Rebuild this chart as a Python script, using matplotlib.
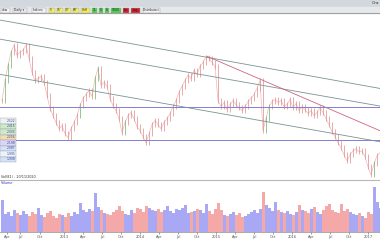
import numpy as np
import matplotlib
matplotlib.use("Agg")
import matplotlib.pyplot as plt
from matplotlib.patches import Rectangle

# closing prices (one every 3 px)
closes = [1980, 2180, 2330, 2460, 2530, 2430, 2460, 2480, 2530, 2400,
          2260, 2180, 2200, 2220, 2160, 2030, 1900, 1830, 1760, 1700,
          1730, 1650, 1610, 1700, 1760, 1830, 1930, 2000, 2040, 2080,
          2020, 2200, 2300, 2130, 2160, 2120, 2000, 1930, 1880, 1800,
          1660, 1760, 1830, 1860, 1800, 1720, 1680, 1620, 1560, 1650,
          1740, 1780, 1740, 1700, 1760, 1800, 1850, 1920, 1980, 2060,
          2120, 2180, 2230, 2200, 2280, 2240, 2320, 2360, 2410, 2400,
          2360, 2320, 1980, 1920, 1960, 1890, 1940, 1980, 1940, 1910,
          1880, 1920, 1970, 2000, 2040, 2100, 2180, 1680, 1800, 1920,
          1970, 1990, 1960, 1980, 1920, 1940, 1990, 1910, 1950, 1880,
          1920, 1890, 1850, 1880, 1830, 1860, 1910, 1860, 1800, 1740,
          1670, 1620, 1560, 1510, 1440, 1380, 1440, 1480, 1500, 1470,
          1480, 1420, 1320, 1240, 1350, 1430, 1460]

volumes = [32, 18, 20, 16, 22, 19, 17, 21, 18, 16, 20, 18, 24, 17, 15, 19,
           21, 16, 14, 18, 17, 15, 19, 16, 20, 18, 29, 22, 20, 23, 21, 39,
           25, 22, 19, 18, 17, 20, 22, 26, 21, 18, 17, 22, 19, 24, 23, 20,
           26, 24, 22, 21, 23, 20, 22, 26, 21, 19, 23, 22, 24, 27, 19, 20,
           21, 23, 22, 19, 28, 21, 18, 23, 29, 22, 17, 16, 18, 20, 17, 19,
           15, 16, 18, 20, 22, 19, 23, 40, 27, 24, 21, 30, 22, 20, 19, 21,
           18, 17, 20, 27, 22, 21, 19, 23, 25, 20, 18, 22, 26, 28, 22, 20,
           19, 28, 21, 23, 20, 18, 17, 19, 16, 14, 20, 18, 45, 30, 24]

# trend lines drawn on the chart: (start index, start price, end index, end price)
channel_lines = [(-0.67, 2780, 126, 2100),
                 (-0.67, 2590, 126, 1925),
                 (-0.67, 2240, 126, 1570)]
red_line = (68.3, 2420, 126, 1680)
levels = [1920, 1590]

date_labels = ["Apr", "Jul", "Oct", "2013", "Apr", "Jul", "Oct", "2014", "Apr", "Jul",
               "Oct", "2015", "Apr", "Jul", "Oct", "2016", "Apr", "Jul", "Oct", "2017"]
date_pos = [1.7, 6, 12.7, 20.7, 27, 33.3, 39.7, 46, 52.3, 58.7,
            65, 71.3, 77.7, 84, 90.3, 96.7, 103, 109.3, 115.7, 122]

table_values = ["2.522", "2.415", "2.333", "2.254", "2.198", "2.087", "1.995", "1.908"]
table_colors = ["#eef2ee", "#cfe8c8", "#cfe8c8", "#f3dcb4", "#dcd4f4", "#d4e2f8", "#eef2f8", "#d4e2f8"]

W, H = 380, 240


def px_rect(x0, y0, x1, y1):
    return [x0 / W, 1 - y1 / H, (x1 - x0) / W, (y1 - y0) / H]


fig = plt.figure(figsize=(3.8, 2.4), dpi=100)
fig.patch.set_facecolor("white")

n = min(len(closes), len(volumes))
closes = np.array(closes[:n], dtype=float)
volumes = np.array(volumes[:n], dtype=float)
idx = np.arange(n)
prev = np.concatenate([[closes[0]], closes[:-1]])
up = closes - prev > 90

# price panel
ax = fig.add_axes(px_rect(0, 13, 380, 179))
ax.set_xlim(-0.67, 126)
ax.set_ylim(1200, 2850)
ax.plot(idx, closes, color="#f0b8b8", lw=0.5, zorder=2)
lo = np.minimum(prev, closes) - 25
hi = np.maximum(prev, closes) + 25
ax.vlines(idx[~up], lo[~up], hi[~up], color="#e08a8a", lw=0.5, zorder=3)
ax.vlines(idx[up], lo[up], hi[up], color="#6ab06a", lw=0.5, zorder=3)

for x0, y0, x1, y1 in channel_lines:
    ax.plot([x0, x1], [y0, y1], color="#7a9494", lw=0.6, zorder=4)
ax.plot([red_line[0], red_line[2]], [red_line[1], red_line[3]], color="#cc6680", lw=0.6, zorder=4)
for lv in levels:
    ax.axhline(lv, color="#8080d0", lw=0.7, zorder=4)
ax.set_xticks([])
ax.set_yticks([])
for s in ax.spines.values():
    s.set_visible(False)

# volume panel
axv = fig.add_axes(px_rect(0, 181, 380, 232))
axv.set_xlim(-0.67, 126)
axv.set_ylim(0, 51)
vcol = np.where(closes >= prev, "#a8a8f4", "#f4a8a8")
axv.bar(idx, volumes, width=1.0, color=vcol, linewidth=0)
axv.set_xticks(date_pos)
axv.set_xticklabels(date_labels, fontsize=2.6, color="#333333")
axv.tick_params(axis="x", length=1.5, width=0.4, pad=0.5, colors="#555555")
axv.set_yticks([])
for s in axv.spines.values():
    s.set_visible(False)
axv.spines["bottom"].set_visible(True)
axv.spines["bottom"].set_linewidth(0.5)
axv.spines["bottom"].set_color("#888888")

# window chrome drawn in pixel coordinates
ui = fig.add_axes([0, 0, 1, 1], zorder=10)
ui.set_xlim(0, W)
ui.set_ylim(H, 0)
ui.axis("off")
ui.add_patch(Rectangle((0, 0), W, 7, color="#d2d8de"))
ui.add_patch(Rectangle((0, 7), W, 6, color="#e6e9ec"))
ui.plot([0, W], [13, 13], color="#a0a0a0", lw=0.8)
ui.plot([0, W], [180, 180], color="#b8b8b8", lw=0.8)
ui.text(379, 3.5, "Gra", fontsize=3, ha="right", va="center", color="#333333")

buttons = [(0, 10, "dow", "#f2f2f2"), (12, 27, "Daily \u25be", "#e8e8f0"),
           (31, 46, "Indices", "#f2f2f2"),
           (48, 55, "5'", "#f2ee60"), (56, 63, "15'", "#f2ee60"), (64, 71, "30'", "#f2ee60"),
           (72, 79, "60'", "#f2ee60"), (80, 90, "Cnfl", "#f2ee60"),
           (91, 97, "1L", "#50d050"), (98, 103, "S", "#50d050"), (104, 109, "6", "#50d050"),
           (110, 121, "1000", "#50d050"),
           (122, 129, "Lin", "#d02030"), (130, 140, "Log", "#d02030"),
           (142, 160, "Distribuisci", "#f2f2f2")]
for x0, x1, lab, col in buttons:
    ui.add_patch(Rectangle((x0 + 0.5, 8), x1 - x0 - 1, 4.6, facecolor=col,
                           edgecolor="#a0a0a0", lw=0.3))
    ui.text((x0 + x1) / 2, 10.4, lab, fontsize=2.2, ha="center", va="center", color="#222222")

for i, (val, col) in enumerate(zip(table_values, table_colors)):
    y0 = 118 + i * 5.5
    ui.add_patch(Rectangle((0, y0), 16, 5.5, facecolor=col, edgecolor="#9aa0b0", lw=0.3))
    ui.text(15.5, y0 + 2.8, val, fontsize=2.2, ha="right", va="center", color="#3040a0")

ui.text(1, 177, "Vol(81) - 20/11/2020", fontsize=2.4, ha="left", va="center", color="#333333")
ui.text(1, 183, "Volume", fontsize=2.4, ha="left", va="center", color="#3030c0")

fig.savefig("out.png", dpi=100)
